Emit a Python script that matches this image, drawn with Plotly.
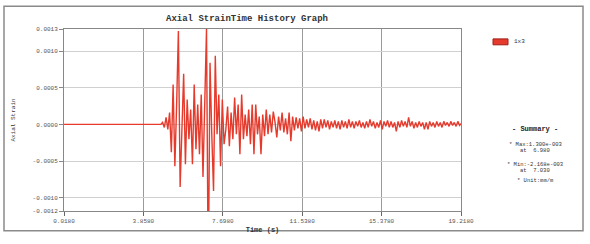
import plotly.graph_objects as go

# ---- data (strain in units of 1e-4) ----
PRE_TIME = [0.018, 0.40, 0.45, 1.10, 1.15, 4.60]
PRE_STRAIN_E4 = [0.0, 0.0, 0.08, 0.0, 0.06, 0.0]

T0 = 4.70
DT = 0.085
STRAIN_E4 = [
    0.0, 0.27, -0.41, 0.95, -0.68, 1.62, -3.79, 5.42, -5.69, 2.71,
    12.73, -8.53, -0.68, 6.91, -5.42, 3.39, -2.03, 2.03, -5.42, 5.42,
    -3.39, 2.71, -4.06, 4.06, -7.18, 2.71, 13.00, -21.68, 8.39, -1.35,
    -9.07, 9.34, -1.35, 4.06, -5.69, 3.39, -2.71, -0.68, 2.44, -2.98,
    1.62, -2.03, 3.66, -1.35, 2.71, -4.06, 4.06, -2.03, 1.35, -1.62,
    2.03, -2.71, 2.71, -4.06, 2.71, -1.35, 1.08, -4.06, 1.35, -1.62,
    2.03, -1.35, 1.35, -1.08, 1.76, 0.27, -1.76, 1.08, -0.81, 1.62,
    -1.08, 0.81, -1.35, 1.62, -2.30, 1.08, -0.81, 0.95, -0.54, 0.81,
    -0.95, 1.08,
    -0.54, 0.68, -0.41, 0.81, -0.68, 0.54, -0.81, 0.41, -0.95, 0.68,
    -0.54, 0.68, -0.41, 0.54, -0.68, 0.41, -0.41, 0.54, -0.54, 0.41,
    -0.68, 0.54, -0.41, 0.41, -0.54, 0.68, -0.41, 0.41, -0.54, 0.41,
    -0.27, 0.54, -0.41, 0.27, -0.54, 0.41, -0.41, 0.68, -0.27, 0.41,
    -0.54, 0.27, -0.41, 0.54, -0.68, 0.41, -0.27, 0.54, -0.41, 0.41,
    -0.41, 0.27, -0.95, 0.41, -0.41, 0.54, -0.27, 0.41, -0.41, 0.95,
    -0.27, 0.41, -0.54, 0.27, -0.41, 0.41, -0.27, 0.27, -0.68, 0.27,
    -0.68, 0.41, -0.27, 0.27, -0.41, 0.41, -0.27, 0.27, -0.41, 0.41,
    -0.14, 0.27, -0.27, 0.41, -0.14, 0.27, -0.27, 0.41, -0.14, 0.14,
]

X_TICKS = [0.018, 3.858, 7.698, 11.538, 15.378, 19.218]
X_TICK_TEXT = ["0.0180", "3.8580", "7.6980", "11.5380", "15.3780", "19.2180"]
Y_TICKS = [0.0013, 0.0010, 0.0005, 0.0, -0.0005, -0.0010, -0.00118]
Y_TICK_TEXT = ["0.0013", "0.0010", "0.0005", "0.0000", "-0.0005", "-0.0010", "-0.0012"]
SERIES_NAME = "1x3"
SUMMARY = ["* Max:1.300e-003", "at  6.980", "* Min:-2.168e-003", "at  7.030", "* Unit:mm/m"]

time = PRE_TIME + [round(T0 + i * DT, 4) for i in range(len(STRAIN_E4))]
strain = [v * 1e-4 for v in PRE_STRAIN_E4 + STRAIN_E4]

RED = "#e53a2c"
FONT = "Liberation Mono"

fig = go.Figure()
fig.add_trace(go.Scatter(x=time, y=strain, mode="lines", name=SERIES_NAME,
                         line=dict(color=RED, width=1.4), showlegend=False))

fig.update_layout(
    width=590, height=244,
    margin=dict(l=64, r=129, t=29, b=31),
    paper_bgcolor="white", plot_bgcolor="white",
    font=dict(family=FONT, size=6, color="#444"),
    title=dict(text="<b>Axial StrainTime History Graph</b>", x=247 / 590, xanchor="center",
               y=1 - 18 / 244, yanchor="middle", font=dict(family=FONT, size=9, color="#333")),
)
fig.update_xaxes(range=[0.018, 19.218], tickvals=X_TICKS, ticktext=X_TICK_TEXT,
                 showgrid=True, gridcolor="#9a9a9a", gridwidth=1,
                 showline=True, linecolor="#888", linewidth=1, mirror=True,
                 ticks="outside", ticklen=4, tickcolor="#666",
                 tickfont=dict(family=FONT, size=6, color="#555"),
                 title=dict(text="<b>Time (s)</b>", standoff=2,
                            font=dict(family=FONT, size=7, color="#333")),
                 zeroline=False)
fig.update_yaxes(range=[-0.00118, 0.0013], tickvals=Y_TICKS, ticktext=Y_TICK_TEXT,
                 showgrid=True, gridcolor="#d0d0d0", gridwidth=1,
                 showline=True, linecolor="#888", linewidth=1, mirror=True,
                 ticks="outside", ticklen=4, tickcolor="#888",
                 tickfont=dict(family=FONT, size=6, color="#555"),
                 title=dict(text="Axial Strain", standoff=16,
                            font=dict(family=FONT, size=6, color="#333")),
                 zeroline=False)

# outer frame
fig.add_shape(type="rect", xref="paper", yref="paper",
              x0=-60 / 397, x1=1 + 122 / 397, y0=-20 / 184, y1=1 + 23 / 184,
              line=dict(color="#8a8a8a", width=1.5), fillcolor="rgba(0,0,0,0)")

# legend swatch + label
def px(x):
    return (x - 64) / 397

def py(y):
    return (213 - y) / 184

fig.add_shape(type="rect", xref="paper", yref="paper",
              x0=px(493), x1=px(508), y0=py(45), y1=py(39),
              line=dict(color="#a02018", width=1), fillcolor=RED)
fig.add_annotation(xref="paper", yref="paper", x=px(512), y=py(42), text=SERIES_NAME,
                   showarrow=False, xanchor="left", yanchor="middle",
                   font=dict(family=FONT, size=6, color="#333"))

fig.add_annotation(xref="paper", yref="paper", x=px(535), y=py(130), text="<b>- Summary -</b>",
                   showarrow=False, xanchor="center", yanchor="middle",
                   font=dict(family=FONT, size=7, color="#222"))
summary_y = [146, 152, 166, 172, 182]
for txt, yy in zip(SUMMARY, summary_y):
    fig.add_annotation(xref="paper", yref="paper", x=px(535), y=py(yy), text=txt,
                       showarrow=False, xanchor="center", yanchor="middle",
                       font=dict(family=FONT, size=5.5, color="#333"))

fig.write_html("out.html", config={"displayModeBar": False},
               post_script="document.body.style.margin='0px';")
